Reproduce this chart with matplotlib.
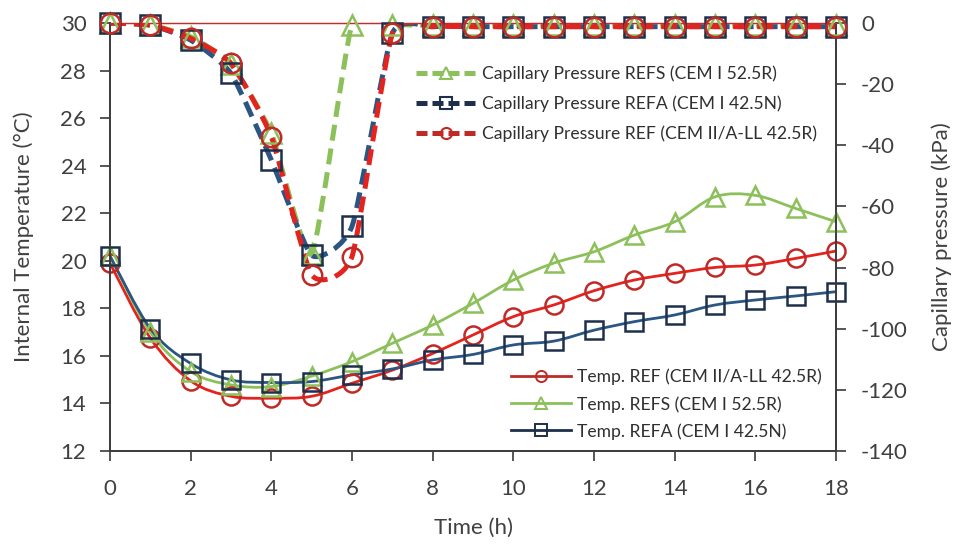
import numpy as np
import matplotlib
matplotlib.use('Agg')
import matplotlib.pyplot as plt
from matplotlib.path import Path
from matplotlib.patches import PathPatch
from matplotlib.lines import Line2D

plt.rcParams['font.family'] = ['Lato', 'DejaVu Sans']
plt.rcParams['axes.unicode_minus'] = False

# Hourly readings
hours = list(range(19))

# internal temperature (C)
temp_ref = [19.9, 16.75, 14.95, 14.3, 14.22, 14.3, 14.85, 15.4, 16.1, 16.88,
            17.65, 18.14, 18.74, 19.19, 19.47, 19.72, 19.82, 20.1, 20.41]
temp_refs = [20.2, 17.0, 15.34, 14.78, 14.71, 15.15, 15.76, 16.53, 17.3, 18.21,
             19.19, 19.9, 20.38, 21.08, 21.64, 22.69, 22.75, 22.2, 21.64]
temp_refa = [20.2, 17.15, 15.68, 14.99, 14.88, 14.92, 15.2, 15.45, 15.83, 16.06,
             16.46, 16.62, 17.08, 17.44, 17.72, 18.14, 18.35, 18.52, 18.7]

# capillary pressure (kPa)
cap_refs = [0, -0.7, -4.5, -13.5, -36, -75.5, -0.5, -0.5, -0.8, -0.8,
            -0.8, -0.8, -0.8, -0.8, -0.8, -0.8, -0.8, -0.8, -0.8]
cap_refa = [0, -0.7, -5.6, -16.5, -44.8, -76.0, -66.5, -3.4, -1.2, -1.2,
            -1.2, -1.2, -1.2, -1.2, -1.2, -1.2, -1.2, -1.2, -1.2]
cap_ref = [0, -0.7, -5, -13.2, -37.2, -82.4, -76.4, -3.4, -1.2, -1.2,
           -1.2, -1.2, -1.2, -1.2, -1.2, -1.2, -1.2, -1.2, -1.2]

x_ticks = list(range(0, 19, 2))
temp_ticks = list(range(12, 31, 2))
cap_ticks = list(range(-140, 1, 20))


def smooth_path(x, y, tension=1 / 6):
    # spreadsheet-style smoothed line: cubic bezier through every point
    x = np.asarray(x, float)
    y = np.asarray(y, float)
    n = len(x)
    verts = [(x[0], y[0])]
    codes = [Path.MOVETO]
    for i in range(n - 1):
        xa, ya = (x[i - 1], y[i - 1]) if i > 0 else (x[i], y[i])
        xb, yb = (x[i + 2], y[i + 2]) if i + 2 < n else (x[i + 1], y[i + 1])
        c1 = (x[i] + (x[i + 1] - xa) * tension, y[i] + (y[i + 1] - ya) * tension)
        c2 = (x[i + 1] - (xb - x[i]) * tension, y[i + 1] - (yb - y[i]) * tension)
        verts += [c1, c2, (x[i + 1], y[i + 1])]
        codes += [Path.CURVE4] * 3
    return Path(verts, codes)


def draw_series(ax, x, y, color, edge, marker, ms, lw, dashed=False):
    tension = 0.09 if dashed else 1 / 6
    patch = PathPatch(smooth_path(x, y, tension), fill=False, edgecolor=color,
                      lw=lw, capstyle='butt')
    if dashed:
        patch.set_linestyle((0, (3.2, 1.6)))
    ax.add_patch(patch)
    ax.plot(x, y, linestyle='none', marker=marker, ms=ms, mfc='none',
            mec=edge, mew=1.8, clip_on=False, zorder=3)


text_col = '#404040'
green = '#8cc05a'
red = '#e4231f'
dark_red = '#c02a26'
blue = '#2b5583'
navy = '#1d2f4b'

fig = plt.figure(figsize=(9.58, 5.45), dpi=100)
ax1 = fig.add_axes([0.1148, 0.1725, 0.7579, 0.7853])
ax2 = ax1.twinx()

# temperature curves
draw_series(ax1, hours, temp_ref, red, dark_red, 'o', 13, 2.0)
draw_series(ax1, hours, temp_refs, green, green, '^', 13, 2.0)
draw_series(ax1, hours, temp_refa, blue, navy, 's', 13, 2.0)

# capillary pressure curves
draw_series(ax2, hours, cap_refs, green, green, '^', 14, 3.6, dashed=True)
draw_series(ax2, hours, cap_refa, blue, navy, 's', 14, 3.6, dashed=True)
draw_series(ax2, hours, cap_ref, red, dark_red, 'o', 14, 3.6, dashed=True)

ax1.set_xlim(0, 18)
ax1.set_ylim(12, 30)
ax2.set_ylim(-140, 0)
ax1.set_xticks(x_ticks)
ax1.set_yticks(temp_ticks)
ax2.set_yticks(cap_ticks)

for ax in (ax1, ax2):
    for s in ax.spines.values():
        s.set_color('#3a3a3a')
        s.set_linewidth(1.2)
    ax.spines['top'].set_color('#c0302b')
    ax.spines['top'].set_linewidth(0.9)
    ax.tick_params(direction='out', length=7, width=1.2, color='#3a3a3a',
                   labelsize=16, labelcolor=text_col)
ax1.tick_params(axis='x', pad=13)
ax1.tick_params(axis='y', pad=10)
ax2.tick_params(axis='y', pad=11)

ax1.set_xlabel('Time (h)', fontsize=16, color=text_col, labelpad=14)
ax1.set_ylabel('Internal Temperature (°C)', fontsize=16, color=text_col,
               labelpad=19)
ax2.set_ylabel('Capillary pressure (kPa)', fontsize=16, color=text_col,
               labelpad=17)

cap_handles = [
    Line2D([], [], color=green, lw=3.6, ls=(0, (2.2, 1.0)), marker='^', ms=8,
           mfc='none', mec=green, mew=1.5),
    Line2D([], [], color=navy, lw=3.6, ls=(0, (2.2, 1.0)), marker='s', ms=8,
           mfc='none', mec=navy, mew=1.5),
    Line2D([], [], color=dark_red, lw=3.6, ls=(0, (2.2, 1.0)), marker='o', ms=8,
           mfc='none', mec=dark_red, mew=1.5),
]
cap_labels = ['Capillary Pressure REFS (CEM I 52.5R)',
              'Capillary Pressure REFA (CEM I 42.5N)',
              'Capillary Pressure REF (CEM II/A-LL 42.5R)']
leg2 = ax2.legend(cap_handles, cap_labels, loc='upper left',
                  bbox_to_anchor=(0.422, 0.9), frameon=False, fontsize=12.6,
                  handlelength=3.4, handletextpad=0.35, labelspacing=0.75,
                  borderpad=0, borderaxespad=0)
for t in leg2.get_texts():
    t.set_color('#303030')

temp_handles = [
    Line2D([], [], color=dark_red, lw=2.0, marker='o', ms=8, mfc='none',
           mec=dark_red, mew=1.4),
    Line2D([], [], color=green, lw=2.0, marker='^', ms=8, mfc='none',
           mec=green, mew=1.4),
    Line2D([], [], color=navy, lw=2.0, marker='s', ms=8, mfc='none',
           mec=navy, mew=1.4),
]
temp_labels = ['Temp. REF (CEM II/A-LL 42.5R)',
               'Temp. REFS (CEM I 52.5R)',
               'Temp. REFA (CEM I 42.5N)']
leg1 = ax1.legend(temp_handles, temp_labels, loc='upper left',
                  bbox_to_anchor=(0.548, 0.2), frameon=True, fontsize=12.6,
                  handlelength=3.4, handletextpad=0.35, labelspacing=0.6,
                  borderpad=0.2, borderaxespad=0, fancybox=False)
leg1.get_frame().set_facecolor('white')
leg1.get_frame().set_edgecolor('none')
leg1.get_frame().set_alpha(1)
for t in leg1.get_texts():
    t.set_color('#303030')

fig.savefig('out.png', dpi=100)
